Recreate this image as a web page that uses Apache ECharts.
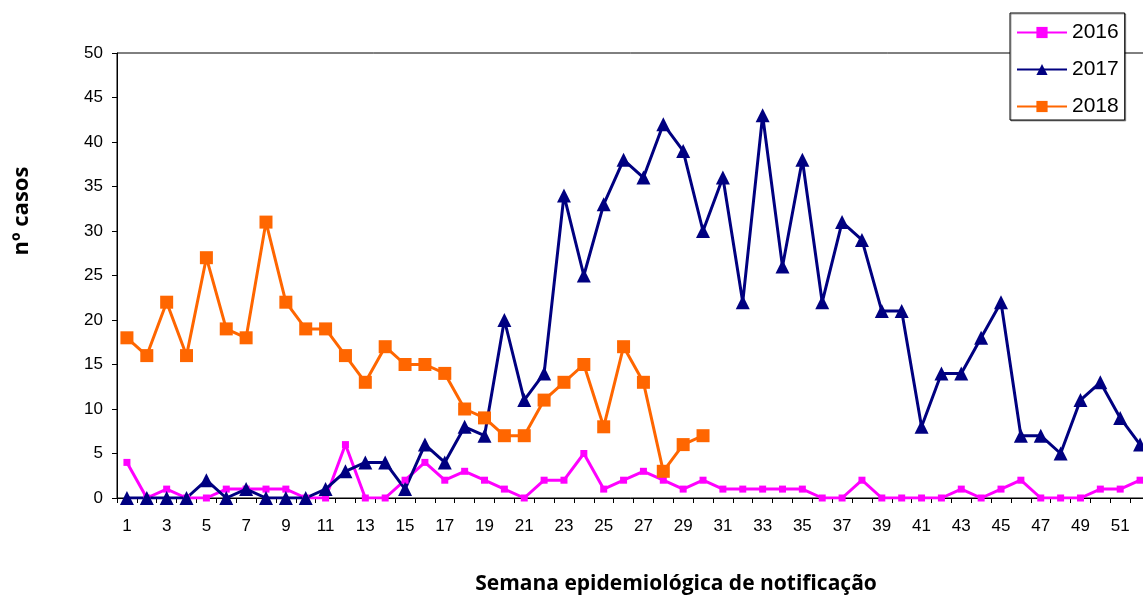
<!DOCTYPE html>
<html>
<head>
<meta charset="utf-8">
<script src="https://cdn.jsdelivr.net/npm/echarts@6/dist/echarts.min.js"></script>
<style>
  html, body { margin: 0; padding: 0; background: #fff; }
  #chart { width: 1143px; height: 596px; }
</style>
</head>
<body>
<div id="chart"></div>
<script>
// semanas epidemiológicas 1..52
const weeks = [];
for (let i = 1; i <= 52; i++) weeks.push(String(i));

const casos2016 = [4, 0, 1, 0, 0, 1, 1, 1, 1, 0, 0, 6, 0, 0, 2, 4, 2, 3, 2, 1,
  0, 2, 2, 5, 1, 2, 3, 2, 1, 2, 1, 1, 1, 1, 1, 0, 0, 2, 0, 0,
  0, 0, 1, 0, 1, 2, 0, 0, 0, 1, 1, 2];
const casos2017 = [0, 0, 0, 0, 2, 0, 1, 0, 0, 0, 1, 3, 4, 4, 1, 6, 4, 8, 7, 20,
  11, 14, 34, 25, 33, 38, 36, 42, 39, 30, 36, 22, 43, 26, 38, 22, 31, 29, 21, 21,
  8, 14, 14, 18, 22, 7, 7, 5, 11, 13, 9, 6];
const casos2018 = [18, 16, 22, 16, 27, 19, 18, 31, 22, 19, 19, 16, 13, 17, 15, 15, 14, 10, 9, 7,
  7, 11, 13, 15, 8, 17, 13, 3, 6, 7];

const labelFont = '"Liberation Sans", Arial, sans-serif';
const titleFont = '"Open Sans", "Noto Sans", sans-serif';

const chart = echarts.init(document.getElementById('chart'));

chart.setOption({
  backgroundColor: '#fff',
  animation: false,
  grid: {
    left: 117,
    top: 53,
    bottom: 98,
    width: 1033, // the plot runs past the right edge of the picture
    outerBoundsMode: 'none',
    show: true,
    borderColor: '#000',
    borderWidth: 1,
    backgroundColor: 'transparent'
  },
  legend: {
    orient: 'vertical',
    left: 1010,
    top: 13,
    padding: [9, 6, 3, 6],
    itemGap: 16,
    itemWidth: 50,
    itemHeight: 14,
    backgroundColor: '#fff',
    borderColor: '#000',
    borderWidth: 1,
    shadowColor: 'rgba(0,0,0,0.35)',
    shadowOffsetX: 1,
    shadowOffsetY: 1,
    textStyle: { fontFamily: labelFont, fontSize: 21, color: '#000' },
    data: ['2016', '2017', '2018']
  },
  xAxis: {
    type: 'category',
    data: weeks,
    boundaryGap: true,
    axisLine: { lineStyle: { color: '#000', width: 1 } },
    axisTick: { show: true, interval: 0, length: 5, lineStyle: { color: '#000' } },
    axisLabel: {
      interval: 1,
      color: '#000',
      fontFamily: labelFont,
      fontSize: 17,
      margin: 20
    },
    splitLine: { show: false }
  },
  yAxis: {
    type: 'value',
    min: 0,
    max: 50,
    interval: 5,
    axisLine: { show: true, lineStyle: { color: '#000', width: 1 } },
    axisTick: { show: true, length: 5, lineStyle: { color: '#000' } },
    axisLabel: {
      color: '#000',
      fontFamily: labelFont,
      fontSize: 17,
      margin: 14
    },
    splitLine: { show: false }
  },
  graphic: [
    {
      type: 'text',
      x: 22,
      y: 211,
      rotation: Math.PI / 2,
      style: {
        text: 'nº casos',
        align: 'center',
        verticalAlign: 'middle',
        font: 'bold 22px ' + titleFont,
        fill: '#000'
      }
    },
    {
      type: 'text',
      x: 676,
      y: 584,
      style: {
        text: 'Semana epidemiológica de notificação',
        align: 'center',
        verticalAlign: 'middle',
        font: 'bold 21px ' + titleFont,
        fill: '#000'
      }
    }
  ],
  series: [
    {
      name: '2016',
      type: 'line',
      data: casos2016,
      symbol: 'rect',
      symbolSize: 7,
      showAllSymbol: true,
      lineStyle: { color: '#FF00FF', width: 3 },
      itemStyle: { color: '#FF00FF' }
    },
    {
      name: '2017',
      type: 'line',
      data: casos2017,
      symbol: 'triangle',
      symbolSize: 14,
      showAllSymbol: true,
      lineStyle: { color: '#000080', width: 3 },
      itemStyle: { color: '#000080' }
    },
    {
      name: '2018',
      type: 'line',
      data: casos2018,
      symbol: 'rect',
      symbolSize: 13,
      showAllSymbol: true,
      lineStyle: { color: '#FF6600', width: 3 },
      itemStyle: { color: '#FF6600' }
    }
  ]
});
</script>
</body>
</html>
